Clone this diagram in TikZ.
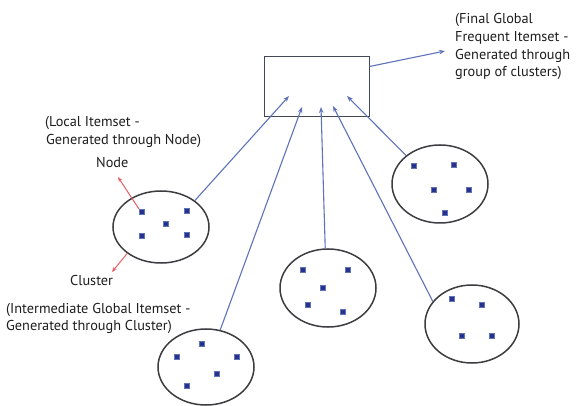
\documentclass[tikz,border=0pt]{standalone}
\usepackage{fontspec}
\setmainfont{PT Sans}
\usetikzlibrary{shapes.geometric,arrows.meta}
\definecolor{linkblue}{RGB}{95,115,185}
\definecolor{itemblue}{RGB}{40,50,140}
\definecolor{ringgray}{RGB}{60,60,65}
\definecolor{noteRed}{RGB}{232,95,105}
\definecolor{txt}{RGB}{30,30,30}
\begin{document}
\begin{tikzpicture}[x=1pt,y=-1pt,
  cluster/.style={ellipse,draw=ringgray,line width=1.5pt,inner sep=0pt},
  item/.style={rectangle,draw=linkblue,fill=itemblue,line width=0.6pt,minimum size=5.5pt,inner sep=0pt},
  link/.style={draw=linkblue,line width=1.1pt,-{Stealth[length=6pt,width=4.5pt]}},
  redlink/.style={draw=noteRed,line width=1pt,-{Stealth[length=5pt,width=4pt]}},
  label/.style={font=\fontsize{14.3}{17.7}\selectfont,text=txt,inner sep=0pt,anchor=base west},
  box/.style={rectangle,draw=ringgray!80!linkblue,line width=1pt,inner sep=0pt}]
\useasboundingbox (0,0) rectangle (576,406);
\fill[white] (0,0) rectangle (576,406);

% central box
\node[box,minimum width=105pt,minimum height=60pt] (final) at (316.5,87) {};

% clusters
\node[cluster,minimum width=96pt,minimum height=72pt] (c1) at (161,227) {};
\node[cluster,minimum width=96pt,minimum height=78pt] (c2) at (440,184) {};
\node[cluster,minimum width=96pt,minimum height=78pt] (c3) at (328,288) {};
\node[cluster,minimum width=94pt,minimum height=78pt] (c4) at (472,324) {};
\node[cluster,minimum width=96pt,minimum height=76pt] (c5) at (206,367) {};

% items
\node[item] (i11) at (142,212) {};
\node[item] (i12) at (187,211) {};
\node[item] (i13) at (166,224) {};
\node[item] (i14) at (142,236) {};
\node[item] (i15) at (187,235) {};

\node[item] (i21) at (414,166) {};
\node[item] (i22) at (454,165) {};
\node[item] (i23) at (434,190) {};
\node[item] (i24) at (469,190) {};
\node[item] (i25) at (445,213) {};

\node[item] (i31) at (303,270) {};
\node[item] (i32) at (348,270) {};
\node[item] (i33) at (323,288) {};
\node[item] (i34) at (308,305) {};
\node[item] (i35) at (343,312) {};

\node[item] (i41) at (452,299) {};
\node[item] (i42) at (482,305) {};
\node[item] (i43) at (462,336) {};
\node[item] (i44) at (492,336) {};

\node[item] (i51) at (177,357) {};
\node[item] (i52) at (202,344) {};
\node[item] (i53) at (237,357) {};
\node[item] (i54) at (217,374) {};
\node[item] (i55) at (187,386) {};

% arrow tips inside the box
\coordinate (t1) at (289,96);
\coordinate (t2) at (302,107);
\coordinate (t3) at (321,107);
\coordinate (t4) at (333,106);
\coordinate (t5) at (347,96);
\coordinate (tout) at (445,51);
\coordinate (tnode) at (118,177);
\coordinate (tclus) at (112,272);

\draw[link] (c1.38) -- (t1);
\draw[link] (c5.69) -- (t2);
\draw[link] (c3.94) -- (t3);
\draw[link] (c4.150) -- (t4);
\draw[link] (c2.140) -- (t5);
\draw[link] ([yshift=-10pt]final.north east) -- (tout);

\draw[redlink] (i11.north west) -- (tnode);
\draw[redlink] (c1.218) -- (tclus);

% texts
\node[label] (l1) at (455,24) {(Final Global};
\node[label] (l2) at (455,42) {Frequent Itemset -};
\node[label] (l3) at (455,59.5) {Generated through};
\node[label] (l4) at (455,77) {group of clusters)};

\node[label] (l5) at (45,127) {(Local Itemset -};
\node[label] (l6) at (46,145) {Generated through Node)};
\node[label] (l7) at (96,168) {Node};
\node[label] (l8) at (70,286) {Cluster};
\node[label] (l9) at (6,313) {(Intermediate Global Itemset -};
\node[label] (l10) at (6,330.5) {Generated through Cluster)};
\end{tikzpicture}
\end{document}
